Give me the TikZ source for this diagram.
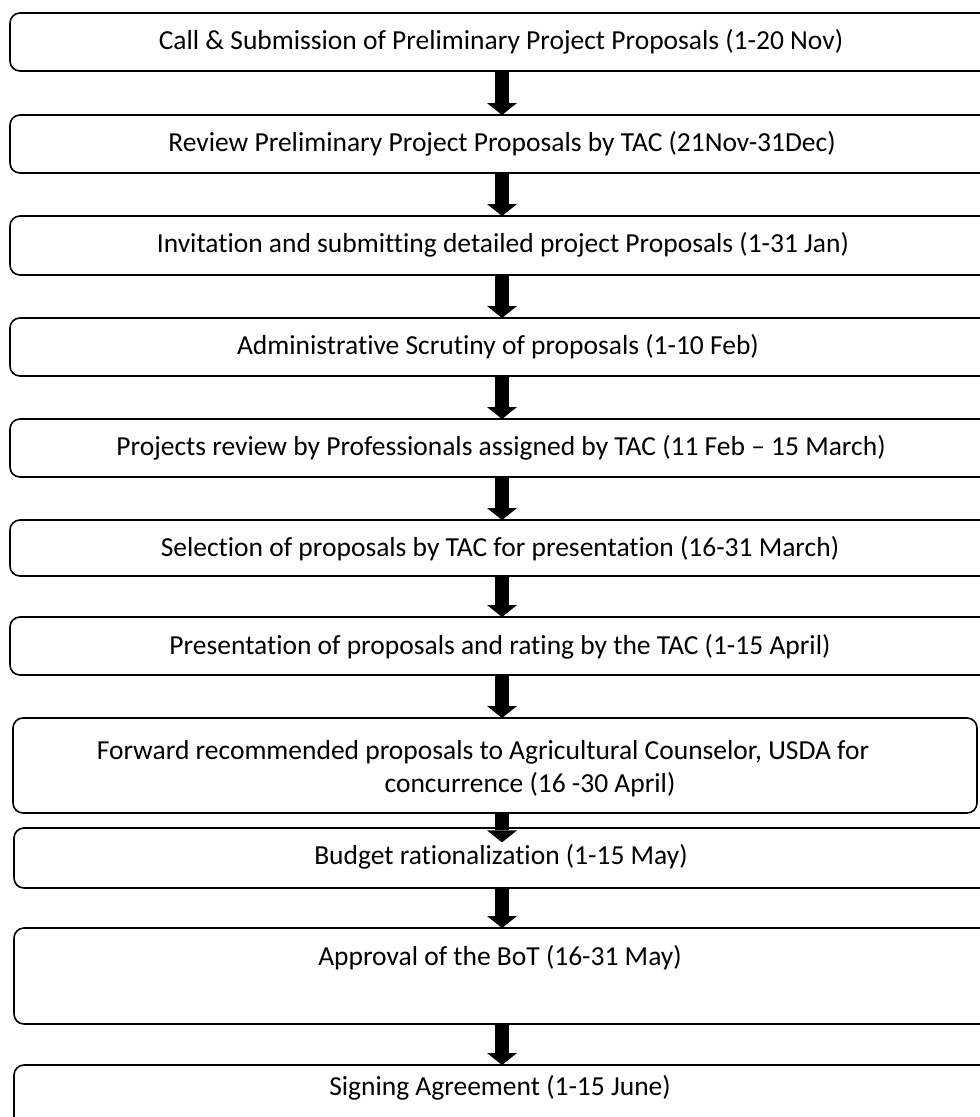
\documentclass[tikz,border=0pt]{standalone}
\usepackage{fontspec}
\setmainfont{Carlito}[Ligatures={NoCommon}]
\usetikzlibrary{arrows.meta}
\begin{document}
\begin{tikzpicture}[x=1pt,y=1pt,
  stepbox/.style={draw=black, line width=1.6pt, rounded corners=10pt, inner sep=0pt, outer sep=0pt, anchor=north west},
  label/.style={font=\fontsize{27.5}{33}\selectfont, inner sep=0pt, anchor=center},
  flow/.style={line width=14pt, line cap=butt, -{Triangle[width=30pt,length=12pt,line width=0pt]}}]
\useasboundingbox (0,0) rectangle (980,-1117);
\clip (0,0) rectangle (980,-1117);
\coordinate (ax) at (502,0);
% boxes
\node[stepbox, minimum width=984pt, minimum height=58pt] (b1) at (10,-13) {};
\node[stepbox, minimum width=984pt, minimum height=58pt] (b2) at (10,-115) {};
\node[stepbox, minimum width=984pt, minimum height=59pt] (b3) at (10,-216) {};
\node[stepbox, minimum width=984pt, minimum height=58pt] (b4) at (10,-318) {};
\node[stepbox, minimum width=984pt, minimum height=58pt] (b5) at (10,-419) {};
\node[stepbox, minimum width=984pt, minimum height=56pt] (b6) at (10,-520) {};
\node[stepbox, minimum width=984pt, minimum height=58pt] (b7) at (10,-617) {};
\node[stepbox, minimum width=964pt, minimum height=95pt] (b8) at (13,-718) {};
\node[stepbox, minimum width=984pt, minimum height=60pt] (b9) at (14,-828) {};
\node[stepbox, minimum width=984pt, minimum height=96pt] (b10) at (14,-928) {};
\node[stepbox, minimum width=984pt, minimum height=80pt] (b11) at (14,-1065) {};
% texts
\node[label] (t1) at (501,-42) {Call \& Submission of Preliminary Project Proposals (1-20 Nov)};
\node[label] (t2) at (502,-144) {Review Preliminary Project Proposals by TAC (21Nov-31Dec)};
\node[label] (t3) at (503,-245) {Invitation and submitting detailed project Proposals (1-31 Jan)};
\node[label] (t4) at (498,-347) {Administrative Scrutiny of proposals (1-10 Feb)};
\node[label] (t5) at (501,-448) {Projects review by Professionals assigned by TAC (11 Feb -- 15 March)};
\node[label] (t6) at (500,-549) {Selection of proposals by TAC for presentation (16-31 March)};
\node[label] (t7) at (500,-647) {Presentation of proposals and rating by the TAC (1-15 April)};
\node[label] (t8a) at (483,-752) {Forward recommended proposals to Agricultural Counselor, USDA for};
\node[label] (t8b) at (530,-785) {concurrence (16 -30 April)};
\node[label] (t9) at (501,-857) {Budget rationalization (1-15 May)};
\node[label] (t10) at (500,-958) {Approval of the BoT (16-31 May)};
\node[label] (t11) at (500,-1088) {Signing Agreement (1-15 June)};
% arrows
\draw[flow] (b1.south -| ax) -- (b2.north -| ax);
\draw[flow] (b2.south -| ax) -- (b3.north -| ax);
\draw[flow] (b3.south -| ax) -- (b4.north -| ax);
\draw[flow] (b4.south -| ax) -- (b5.north -| ax);
\draw[flow] (b5.south -| ax) -- (b6.north -| ax);
\draw[flow] (b6.south -| ax) -- (b7.north -| ax);
\draw[flow] (b7.south -| ax) -- (b8.north -| ax);
\draw[flow] (b8.south -| ax) -- ([yshift=2pt]t9.north -| ax);
\draw[flow] (b9.south -| ax) -- (b10.north -| ax);
\draw[flow] (b10.south -| ax) -- (b11.north -| ax);
\end{tikzpicture}
\end{document}
